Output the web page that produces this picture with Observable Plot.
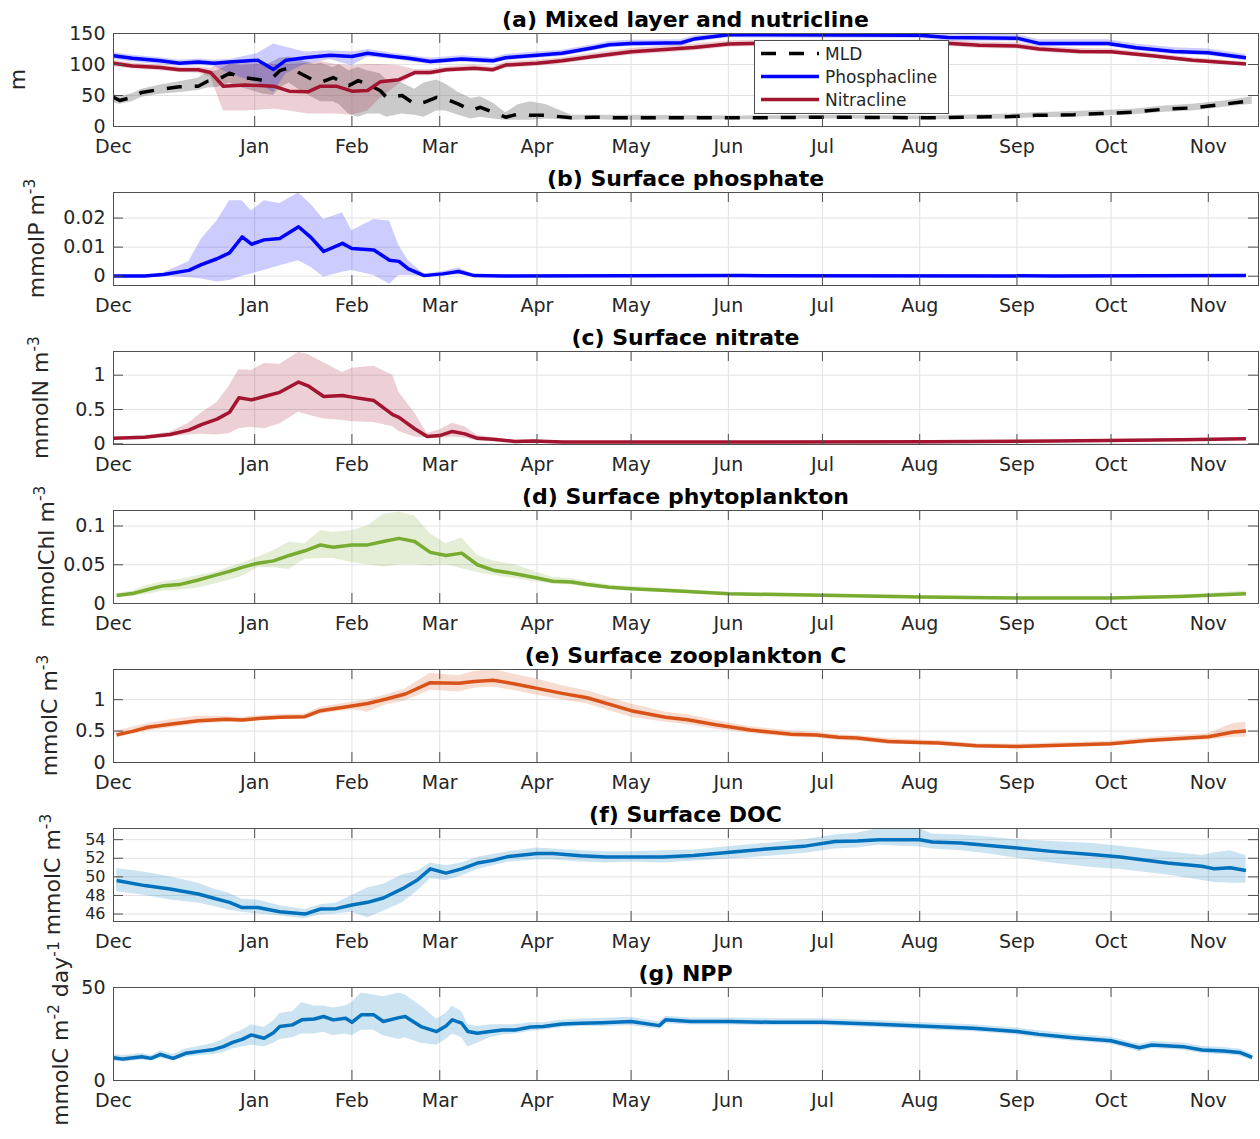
<!DOCTYPE html>
<html>
<head>
<meta charset="utf-8">
<script src="https://cdn.jsdelivr.net/npm/d3@7"></script>
<script src="https://cdn.jsdelivr.net/npm/@observablehq/plot@0.6"></script>
<style>
html, body { margin: 0; padding: 0; background: #fff; overflow: hidden; }
#wrap { position: relative; width: 1260px; height: 1139px; font-family: "DejaVu Sans", sans-serif; }
.panel { position: absolute; left: 0; }
#legend { position: absolute; left: 754px; top: 40px; width: 193px; height: 72px; border: 1px solid #4d4d4d; background: #fff; }
</style>
</head>
<body>
<div id="wrap"></div>
<script>
// ---------- axis ticks ----------
const monthTicks = [0, 45, 76, 104, 135, 165, 196, 226, 257, 288, 318, 349];
const monthLabels = ["Dec", "Jan", "Feb", "Mar", "Apr", "May", "Jun", "Jul", "Aug", "Sep", "Oct", "Nov"];

// ---------- titles & labels ----------
const titles = ["(a) Mixed layer and nutricline", "(b) Surface phosphate", "(c) Surface nitrate",
  "(d) Surface phytoplankton", "(e) Surface zooplankton C", "(f) Surface DOC", "(g) NPP"];
const labelA = [{t: "m"}];
const labelB = [{t: "mmolP m"}, {t: "-3", sup: true}];
const labelC = [{t: "mmolN m"}, {t: "-3", sup: true}];
const labelD = [{t: "mmolChl m"}, {t: "-3", sup: true}];
const labelE = [{t: "mmolC m"}, {t: "-3", sup: true}];
const labelF = [{t: "mmolC m"}, {t: "-3", sup: true}];
const labelG = [{t: "mmolC m"}, {t: "-2", sup: true}, {t: " day"}, {t: "-1", sup: true}];
const legendNames = ["MLD", "Phosphacline", "Nitracline"];

// ---------- (a) mixed layer depth and nutriclines (m) ----------
const mldDay = [0,2,6,9,15,21,27,30,33,37, 41,46,48,51,53,56,59,64,66,70, 72,75,78,81,85,87,92,96,99,103, 106,110,114,117,121,125,129,133,138,146, 153,161,165,200,230,260,286,294,306,315, 325,335,344,354,363];
const mld = [47,42,47,55,60,64,65,73,75,86, 79,76,74,80,90,95,87,74,71,79, 74,66,74,68,58,47,50,36,39,47, 44,36,26,31,23,15,20,18,18,14, 15,14,14,14,15,14,16,18,19,21, 23,28,30,36,42];
const mldLo = [38,36,40,47,52,55,58,62,63,70, 62,55,52,50,62,70,60,45,40,40, 35,20,15,20,20,15,20,18,15,25, 25,18,12,15,12,10,10,10,12,10, 11,10,10,11,12,11,12,14,15,17, 19,23,25,31,36];
const mldHi = [52,48,53,60,67,72,78,88,90,100, 98,100,98,105,110,112,108,100,102,95, 100,90,95,90,85,75,70,60,70,75, 68,55,45,48,38,22,35,40,35,18, 18,18,18,17,18,17,20,22,24,26, 28,33,36,41,48];

const phosDay = [0,6,15,21,27,32,37,46,51,55, 61,69,76,81,89,94,101,111,121,125, 135,143,153,158,165,181,185,196,257,266, 288,295,317,326,338,349,361];
const phos = [114,110,106,102,104,102,104,107,92,107, 111,115,113,118,113,110,105,109,106,111, 115,118,127,132,134,135,141,148,147,143.5, 142.5,134,134,127,121,119,111];
const phosLo = [108,104,100,97,98,97,85,70,55,85, 100,108,98,112,108,105,100,104,101,106, 110,113,122,127,129,130,136,143,142,138, 137,129,129,122,116,114,106];
const phosHi = [119,115,111,107,109,107,108,118,133,128, 120,122,120,124,118,115,110,114,111,116, 120,123,132,137,139,140,146,152,152,149, 148,140,140,133,127,125,116];

const nitDay = [0,6,15,21,27,31,35,42,51,56, 62,66,71,76,81,85,91,96,101,106, 115,121,125,135,143,153,165,185,196,203, 267,276,288,295,308,318,331,344,361];
const nit = [102,97.5,95,91.6,91.6,87,65,67,65,57, 56,65,65,57,58,72,75.5,87,87,91.6, 94,91.6,99,102,106,113,120.5,127.5,133,134, 134,131,130,125,121,120.5,114,107,101];
const nitLo = [96,93,90,87,86,80,25,25,28,25, 20,20,20,18,25,45,68,82,82,87, 89,87,94,97,101,108,115,122,128,129, 129,126,125,120,116,116,110,103,98];
const nitHi = [107,102,99,96,96,94,105,103,100,100, 102,105,100,98,100,100,98,92,92,96, 99,96,104,107,111,118,126,133,138,139, 139,136,135,130,126,125,118,111,104];

// ---------- (b) surface phosphate ----------
const po4Day = [0,10,16,24,28,33,37,41,44,48, 53,59,63,67,73,76,83,88,91,94, 99,105,110,115,124,200,300,361];
const po4 = [0.0001,0.0001,0.0006,0.002,0.004,0.006,0.008,0.0135,0.011,0.0125, 0.013,0.017,0.0133,0.0085,0.0113,0.0095,0.009,0.0055,0.0051,0.0025, 0.0002,0.0008,0.0016,0.0002,0.0001,0.0002,0.0001,0.0002];
const po4Lo = [-0.0002,-0.0002,0,-0.0005,-0.001,-0.002,-0.0015,0,0.0008,0.002, 0.0036,0.0053,0.003,-0.0003,0.0014,0.002,0.0002,-0.0028,0.0002,0.0002, -0.0001,0.0002,0.0005,0,0,0,0,0];
const po4Hi = [0.0004,0.0005,0.0012,0.005,0.0127,0.019,0.026,0.026,0.0224,0.026, 0.025,0.0286,0.0247,0.0195,0.0218,0.0156,0.0195,0.019,0.0105,0.0053, 0.0008,0.0016,0.0028,0.0005,0.0003,0.0004,0.0003,0.0004];

// ---------- (c) surface nitrate ----------
const no3Day = [0,10,18,24,28,33,37,40,44,48, 53,59,62,67,73,76,83,89,91,96, 100,104,108,112,116,121,128,134,143,200, 260,300,340,361];
const no3 = [0.082,0.097,0.135,0.2,0.28,0.36,0.46,0.67,0.64,0.69, 0.75,0.9,0.845,0.69,0.705,0.68,0.63,0.425,0.386,0.22, 0.106,0.12,0.18,0.145,0.08,0.068,0.034,0.04,0.025,0.025, 0.03,0.04,0.06,0.075];
const no3Lo = [0.07,0.08,0.1,0.13,0.14,0.13,0.15,0.22,0.24,0.22, 0.29,0.46,0.42,0.36,0.34,0.32,0.31,0.25,0.18,0.1, 0.08,0.08,0.1,0.08,0.04,0.03,0.02,0.02,0.015,0.017, 0.02,0.03,0.05,0.065];
const no3Hi = [0.095,0.12,0.17,0.3,0.45,0.6,0.85,1.08,1.07,1.17, 1.16,1.33,1.3,1.18,1.04,1.1,1.13,1.0,0.75,0.45, 0.15,0.2,0.3,0.25,0.12,0.09,0.05,0.06,0.035,0.033, 0.04,0.05,0.07,0.085];

// ---------- (d) surface phytoplankton ----------
const chlDay = [1,6,11,16,21,27,32,37,41,46, 51,56,61,66,70,76,81,86,91,96, 101,106,111,116,121,128,135,140,146,151, 158,165,180,196,226,257,288,318,340,361];
const chl = [0.0103,0.0128,0.018,0.023,0.0244,0.0303,0.036,0.0415,0.0466,0.052, 0.055,0.062,0.068,0.0756,0.0726,0.0756,0.0756,0.08,0.084,0.08, 0.066,0.062,0.065,0.05,0.043,0.0385,0.033,0.0286,0.0278,0.0244, 0.021,0.019,0.016,0.0125,0.0105,0.0085,0.007,0.007,0.009,0.0125];
const chlLo = [0.008,0.009,0.012,0.016,0.017,0.02,0.025,0.03,0.035,0.046, 0.046,0.044,0.057,0.058,0.058,0.053,0.05,0.047,0.05,0.05, 0.048,0.05,0.045,0.04,0.036,0.032,0.028,0.025,0.024,0.021, 0.018,0.016,0.0135,0.0105,0.0085,0.0068,0.0055,0.0055,0.007,0.010];
const chlHi = [0.013,0.016,0.024,0.028,0.031,0.036,0.04,0.047,0.052,0.06, 0.068,0.079,0.077,0.094,0.092,0.094,0.1,0.115,0.118,0.113, 0.09,0.077,0.085,0.062,0.055,0.05,0.04,0.034,0.032,0.028, 0.024,0.022,0.0185,0.0145,0.0125,0.0102,0.0085,0.0085,0.011,0.016];

// ---------- (e) surface zooplankton C ----------
const zooDay = [1,6,11,18,27,36,41,46,53,61, 66,76,81,87,93,101,110,115,121,128, 135,143,151,165,176,183,192,203,216,224, 231,237,247,257,263,275,288,299,318,331, 349,357,361];
const zoo = [0.44,0.495,0.56,0.61,0.665,0.69,0.675,0.7,0.72,0.73, 0.825,0.9,0.94,1.01,1.09,1.27,1.26,1.29,1.31,1.25, 1.18,1.1,1.03,0.825,0.72,0.68,0.6,0.516,0.45,0.436, 0.4,0.39,0.335,0.32,0.31,0.266,0.255,0.27,0.3,0.356, 0.41,0.484,0.5];
const zooLo = [0.39,0.45,0.5,0.55,0.61,0.64,0.63,0.66,0.68,0.69, 0.77,0.84,0.8,0.92,0.98,1.15,1.12,1.18,1.2,1.14, 1.07,1.0,0.93,0.72,0.64,0.6,0.53,0.46,0.4,0.39, 0.35,0.34,0.29,0.28,0.27,0.23,0.22,0.23,0.26,0.31, 0.36,0.4,0.4];
const zooHi = [0.5,0.56,0.62,0.68,0.74,0.73,0.72,0.74,0.76,0.77, 0.88,0.96,1.0,1.08,1.17,1.42,1.38,1.45,1.48,1.4, 1.33,1.22,1.14,0.93,0.8,0.76,0.67,0.57,0.5,0.48, 0.44,0.43,0.38,0.36,0.35,0.3,0.29,0.31,0.34,0.4, 0.46,0.62,0.64];

// ---------- (f) surface DOC ----------
const docDay = [1,10,18,27,32,37,41,46,53,61, 66,71,76,81,86,92,97,101,106,111, 116,121,126,135,140,149,157,165,175,185, 201,208,220,230,237,244,257,261,270,278, 288,299,312,321,336,347,351,356,361];
const doc = [49.6,49.06,48.7,48.16,47.7,47.26,46.7,46.7,46.25,46.0, 46.54,46.58,46.97,47.26,47.73,48.7,49.7,50.86,50.4,50.86, 51.48,51.77,52.2,52.5,52.5,52.27,52.13,52.13,52.13,52.3, 52.77,53.0,53.28,53.8,53.86,54.0,54.0,53.75,53.64,53.39, 53.1,52.74,52.4,52.13,51.48,51.15,50.86,50.97,50.68];
const docLo = [48.4,48.0,47.5,47.2,46.8,46.4,46.2,46.0,45.8,45.5, 45.9,46.0,46.2,45.6,46.3,47.2,48.5,49.8,49.6,50.1, 50.8,51.2,51.6,51.8,51.8,51.6,51.5,51.6,51.5,51.7, 52.0,52.2,52.5,53.0,53.1,53.4,53.2,53.0,52.8,52.5, 52.0,51.5,51.0,50.8,50.2,49.6,49.4,49.3,49.3];
const docHi = [50.9,50.5,50.0,49.3,48.7,48.2,47.6,47.5,46.9,46.5, 47.0,47.2,48.0,48.8,49.2,50.2,50.6,51.5,51.2,51.5, 52.1,52.4,52.7,53.1,53.0,52.8,52.7,52.7,52.8,52.9, 53.4,53.6,54.0,54.5,54.7,55.2,55.2,54.6,54.5,54.3, 54.0,53.8,53.6,53.3,52.7,52.3,52.6,52.8,52.3];

// ---------- (g) NPP ----------
const nppDay = [0,3,9,12,15,19,23,28,32,35, 38,41,44,48,51,53,57,60,64,67, 70,74,76,79,83,86,91,93,98,103, 106,108,111,113,116,120,124,128,133,137, 143,149,156,165,174,176,184,196,210,226, 242,257,274,288,295,306,318,327,331,341, 347,354,359,363];
const npp = [12.2,11.5,12.8,11.9,14,11.9,14.6,15.8,16.7,18.2, 20.5,22.1,24.5,22.7,25.7,29,29.9,32.6,33.1,34.4, 32.6,33.5,31.3,35.3,35.3,31.7,33.8,34.4,29,26.3, 29.3,32.6,30.8,26.3,25.4,26.3,27.2,27.2,28.8,29, 30.4,30.8,31.1,31.7,29.5,32.6,31.7,31.7,31.3,31.3, 30.4,29.3,28.1,26.3,24.8,23,21.4,17.6,19.1,18.2, 16.4,15.8,15.1,12.4];
const nppLo = [10.5,10,11,10.5,12,10.5,12.5,13.5,14,15, 17,18,19,18,20,22,23,25,25,26, 24,25,24,27,27,24,22,23,20,19, 22,25,23,18,20,23,24.5,25,26.5,27, 28.5,29,29,29.5,27.5,30.5,29.8,29.8,29.4,29.4, 28.5,27.4,26.2,24.4,22.9,21.1,19.5,15.5,17.2,16.3, 14.5,13.9,13.2,10.5];
const nppHi = [14,13.5,14.5,13.5,16,14,17,18.5,20,22, 25,27,30,28.5,32,36,37,42,40,40, 39,40,42,47,46,45,47,46,40,33, 36,40,37,30,29,30,30,30,31,31, 32.5,33,33.5,34,31.5,34.5,33.6,33.6,33.2,33.2, 32.3,31.2,30,28.2,26.7,24.9,23.3,19.5,21,20.1, 18.3,17.7,17,14.3];

// ---------- layout / style ----------
const FONT = "DejaVu Sans";
const W = 1260, PH = 159, ML = 113, MR = 2, MT = 33, FH = 93;
const FW = W - ML - MR;
const TICK = 10;
const gridColor = "#e2e2e2", axisColor = "#505050", textColor = "#262626";

function rows(day, v, lo, hi) {
  return day.map((d, i) => ({day: d, v: v[i], lo: lo[i], hi: hi[i]}));
}

function addLabel(svg, parts, x, cy) {
  const t = d3.select(svg).append("text")
    .attr("transform", `translate(${x},${cy}) rotate(-90)`)
    .attr("text-anchor", "middle")
    .attr("fill", textColor)
    .style("font-family", FONT)
    .style("font-size", "22px");
  let shifted = false;
  for (const p of parts) {
    const sp = t.append("tspan").text(p.t);
    if (p.sup) { sp.attr("dy", -9).style("font-size", "15.5px"); shifted = true; }
    else if (shifted) { sp.attr("dy", 9); shifted = false; }
  }
}

function makePanel(cfg, index) {
  const height = cfg.height || PH;
  const yFont = cfg.yFont || 19;
  const marks = [
    Plot.ruleX(monthTicks, {x: d => d, stroke: gridColor}),
    Plot.ruleY(cfg.yTicks, {y: d => d, stroke: gridColor})
  ];
  for (const s of cfg.series) {
    marks.push(Plot.areaY(s.data, {x: "day", y1: "lo", y2: "hi", fill: s.band || s.color,
      fillOpacity: s.bandOpacity ?? 0.2, curve: "linear", clip: true}));
  }
  for (const s of cfg.series) {
    marks.push(Plot.line(s.data, {x: "day", y: "v", stroke: s.color, strokeWidth: 3.5,
      strokeDasharray: s.dash, strokeLinejoin: "round", strokeLinecap: "butt", curve: "linear", clip: true}));
  }
  marks.push(
    Plot.ruleX(monthTicks, {x: d => d, stroke: axisColor, insetTop: FH - TICK}),
    Plot.ruleX(monthTicks, {x: d => d, stroke: axisColor, insetBottom: FH - TICK}),
    Plot.ruleY(cfg.yTicks, {y: d => d, stroke: axisColor, insetRight: FW - TICK}),
    Plot.ruleY(cfg.yTicks, {y: d => d, stroke: axisColor, insetLeft: FW - TICK}),
    Plot.frame({stroke: axisColor}),
    Plot.axisX({ticks: monthTicks, tickFormat: d => monthLabels[monthTicks.indexOf(d)],
      tickSize: 0, tickPadding: 13, fontSize: 19, label: null}),
    Plot.axisY({ticks: cfg.yTicks, tickFormat: d => String(d),
      tickSize: 0, tickPadding: 8, fontSize: yFont, label: null})
  );
  const svg = Plot.plot({
    width: W, height,
    marginLeft: ML, marginRight: MR, marginTop: MT, marginBottom: height - MT - FH,
    x: {domain: [0, 365]},
    y: {domain: cfg.domain},
    style: {fontFamily: FONT, fontSize: "19px", color: textColor, background: "transparent", overflow: "visible"},
    marks
  });
  d3.select(svg).append("text")
    .attr("x", ML + FW / 2).attr("y", MT - 6)
    .attr("text-anchor", "middle").attr("fill", "#000")
    .style("font-family", FONT).style("font-size", "22px").style("font-weight", "bold")
    .text(cfg.title);
  addLabel(svg, cfg.label, cfg.labelX, MT + FH / 2);
  const holder = document.createElement("div");
  holder.className = "panel";
  holder.style.top = (index * PH) + "px";
  holder.appendChild(svg);
  document.getElementById("wrap").appendChild(holder);
}

const panels = [
  {title: titles[0], label: labelA, labelX: 25, domain: [0, 150], yTicks: [0, 50, 100, 150],
   series: [
     {data: rows(mldDay, mld, mldLo, mldHi), color: "#000000", band: "#808080", bandOpacity: 0.42, dash: "15,13"},
     {data: rows(nitDay, nit, nitLo, nitHi), color: "#a2142f"},
     {data: rows(phosDay, phos, phosLo, phosHi), color: "#0000ff"}
   ]},
  {title: titles[1], label: labelB, labelX: 44, domain: [-0.0032, 0.0288], yTicks: [0, 0.01, 0.02],
   series: [{data: rows(po4Day, po4, po4Lo, po4Hi), color: "#0000ff"}]},
  {title: titles[2], label: labelC, labelX: 48, domain: [-0.01, 1.345], yTicks: [0, 0.5, 1],
   series: [{data: rows(no3Day, no3, no3Lo, no3Hi), color: "#a2142f"}]},
  {title: titles[3], label: labelD, labelX: 54, domain: [0, 0.12], yTicks: [0, 0.05, 0.1],
   series: [{data: rows(chlDay, chl, chlLo, chlHi), color: "#77ac30"}]},
  {title: titles[4], label: labelE, labelX: 57, domain: [0, 1.48], yTicks: [0, 0.5, 1],
   series: [{data: rows(zooDay, zoo, zooLo, zooHi), color: "#d95319"}]},
  {title: titles[5], label: labelF, labelX: 60, domain: [45.2, 55.2], yTicks: [46, 48, 50, 52, 54], yFont: 16,
   series: [{data: rows(docDay, doc, docLo, docHi), color: "#0072bd"}]},
  {title: titles[6], label: labelG, labelX: 68, domain: [0, 50], yTicks: [0, 50], height: 185,
   series: [{data: rows(nppDay, npp, nppLo, nppHi), color: "#0072bd"}]}
];
panels.forEach((p, i) => makePanel(p, i));

// ---------- legend for panel (a) ----------
const legendStyles = [
  {color: "#000000", dash: "15,13"},
  {color: "#0000ff", dash: null},
  {color: "#a2142f", dash: null}
];
const legend = d3.select("#wrap").append("div").attr("id", "legend");
const lsvg = legend.append("svg").attr("width", 193).attr("height", 72);
legendNames.forEach((name, i) => {
  const cy = 12.5 + i * 23;
  lsvg.append("line").attr("x1", 6).attr("x2", 64).attr("y1", cy).attr("y2", cy)
    .attr("stroke", legendStyles[i].color).attr("stroke-width", 3.5)
    .attr("stroke-dasharray", legendStyles[i].dash);
  lsvg.append("text").attr("x", 70).attr("y", cy + 6)
    .attr("fill", textColor).style("font-family", FONT).style("font-size", "17px")
    .text(name);
});
</script>
</body>
</html>
